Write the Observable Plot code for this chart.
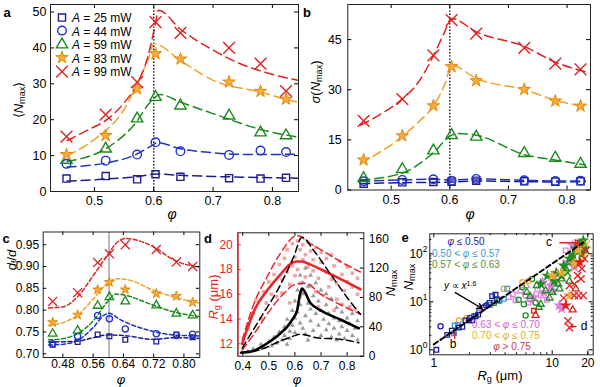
<!DOCTYPE html>
<html><head><meta charset="utf-8">
<script src="https://cdn.jsdelivr.net/npm/d3@7"></script>
<script src="https://cdn.jsdelivr.net/npm/@observablehq/plot@0.6"></script>
<style>
body{margin:0;background:#fff}
#fig{position:relative;width:600px;height:387px;font-family:"Liberation Sans",Arial,Helvetica,sans-serif;overflow:hidden;background:#fff;color:#000}
.lbl{position:absolute;white-space:nowrap;line-height:1}
.lbl sub{font-size:70%;vertical-align:-0.25em;line-height:0}
.lbl sup{font-size:70%;vertical-align:0.5em;line-height:0}
</style></head><body><div id="fig"></div>
<script>
// ================= DATA =================
const phiA = [0.453, 0.519, 0.572, 0.603, 0.645, 0.727, 0.780, 0.823];
const powers = [25, 44, 59, 83, 99];
const phiPeak = 0.6;

// panel a: <N_max>
const meanN25 = [3.6, 4.3, 3.4, 4.8, 4.1, 3.7, 3.6, 3.8];
const meanN44 = [7.7, 8.6, 10.3, 13.7, 11.2, 10.2, 11.4, 11.0];
const meanN59 = [8.8, 11.9, 20.3, 26.3, 23.9, 21.1, 16.4, 15.6];
const meanN83 = [10.3, 15.6, 28.6, 38.4, 36.9, 30.5, 27.9, 25.7];
const meanN99 = [15.3, 21.4, 30.5, 47.2, 44.2, 40.0, 35.6, 28.0];
const fitA25 = [[0.454,2.9],[0.521,3.5],[0.566,4.0],[0.606,4.9],[0.645,4.5],[0.70,4.2],[0.78,3.9],[0.845,3.7]];
const fitA44 = [[0.454,6.8],[0.521,8.0],[0.566,10.0],[0.597,12.8],[0.606,13.6],[0.645,11.9],[0.70,10.8],[0.735,10.4],[0.78,10.3],[0.845,10.4]];
const fitA59 = [[0.454,8.4],[0.521,12.1],[0.566,18.4],[0.597,25.4],[0.611,27.0],[0.645,24.9],[0.70,21.7],[0.78,17.3],[0.845,15.1]];
const fitA83 = [[0.454,10.0],[0.5045,15.1],[0.549,22.6],[0.572,30.0],[0.592,37.5],[0.600,41.2],[0.645,36.5],[0.701,30.9],[0.78,27.7],[0.825,25.6],[0.845,24.8]];
const fitA99 = [[0.454,14.2],[0.49,17.2],[0.521,20.0],[0.55,24.7],[0.572,30.0],[0.59,37.5],[0.602,46.0],[0.608,50.5],[0.645,45.2],[0.70,39.4],[0.735,36.4],[0.78,33.6],[0.845,30.9]];

// panel b: sigma(N_max)
const sdN25 = [1.9, 2.3, 2.4, 2.5, 2.8, 2.6, 2.5, 2.6];
const sdN44 = [2.6, 3.0, 3.2, 2.8, 3.3, 2.9, 2.7, 2.8];
const sdN59 = [3.5, 6.2, 11.8, 16.4, 15.9, 11.0, 9.6, 7.8];
const sdN83 = [9.0, 16.2, 25.2, 36.9, 32.7, 30.1, 26.6, 25.1];
const sdN99 = [20.7, 27.2, 40.3, 50.8, 46.8, 42.5, 37.8, 36.1];
const fitB25 = [[0.448,1.9],[0.518,2.2],[0.571,2.3],[0.603,2.4],[0.645,2.7],[0.729,2.5],[0.779,2.4],[0.831,2.5]];
const fitB44 = [[0.448,2.6],[0.518,3.0],[0.571,3.2],[0.603,3.0],[0.645,3.3],[0.729,2.9],[0.779,2.7],[0.831,2.7]];
const fitB59 = [[0.448,3.0],[0.518,5.0],[0.571,11.0],[0.603,16.4],[0.615,16.9],[0.645,16.4],[0.729,10.5],[0.779,9.0],[0.831,7.5]];
const fitB83 = [[0.448,8.0],[0.518,15.9],[0.55,20.9],[0.571,24.9],[0.592,31.9],[0.603,37.3],[0.645,33.4],[0.729,29.9],[0.779,26.9],[0.831,24.9]];
const fitB99 = [[0.448,19.4],[0.479,22.4],[0.518,27.1],[0.547,32.4],[0.571,39.8],[0.590,46.8],[0.603,51.3],[0.645,47.3],[0.729,42.8],[0.779,38.3],[0.831,35.4]];

// panel c: d_f/d
const df25 = [0.721, 0.727, 0.744, 0.740, 0.732, 0.728, 0.744, 0.738];
const df44 = [0.723, 0.740, 0.788, 0.780, 0.757, 0.746, 0.742, 0.745];
const df59 = [0.746, 0.753, 0.810, 0.830, 0.820, 0.811, 0.792, 0.788];
const df83 = [0.772, 0.789, 0.847, 0.864, 0.847, 0.838, 0.832, 0.818];
const df99 = [0.820, 0.840, 0.909, 0.929, 0.950, 0.939, 0.910, 0.900];
const fitC25 = [[0.442,0.727],[0.518,0.729],[0.561,0.737],[0.597,0.743],[0.64,0.742],[0.72,0.733],[0.773,0.737],[0.842,0.735]];
const fitC44 = [[0.442,0.720],[0.482,0.722],[0.518,0.730],[0.561,0.761],[0.590,0.789],[0.602,0.793],[0.63,0.779],[0.72,0.751],[0.773,0.743],[0.842,0.741]];
const fitC59 = [[0.442,0.732],[0.482,0.735],[0.518,0.746],[0.561,0.776],[0.597,0.818],[0.620,0.837],[0.64,0.835],[0.72,0.811],[0.773,0.796],[0.842,0.785]];
const fitC83 = [[0.442,0.765],[0.482,0.772],[0.518,0.788],[0.561,0.826],[0.597,0.861],[0.623,0.872],[0.65,0.870],[0.72,0.845],[0.773,0.830],[0.842,0.816]];
const fitC99 = [[0.442,0.805],[0.482,0.808],[0.518,0.830],[0.561,0.880],[0.597,0.925],[0.623,0.955],[0.645,0.964],[0.667,0.962],[0.72,0.945],[0.773,0.915],[0.842,0.898]];

// panel d: R_g and N_max versus phi
const rgMean  = [[0.398,12.0],[0.449,14.9],[0.493,16.3],[0.544,17.6],[0.58,18.4],[0.605,18.65],[0.625,18.65],[0.66,18.4],[0.72,17.8],[0.787,17.1],[0.851,16.4]];
const rgUpper = [[0.398,12.3],[0.442,15.2],[0.493,17.4],[0.544,19.3],[0.608,20.75],[0.659,20.1],[0.723,19.3],[0.787,18.5],[0.851,17.8]];
const rgLower = [[0.398,11.5],[0.45,13.0],[0.50,14.6],[0.55,15.9],[0.60,16.8],[0.64,16.9],[0.70,16.0],[0.78,15.1],[0.851,14.4]];
const nMaxMean  = [[0.395,5],[0.44,7],[0.468,12],[0.5,19],[0.544,31],[0.57,40],[0.59,50],[0.608,62],[0.62,85],[0.627,92],[0.66,72],[0.70,62],[0.774,50],[0.845,38]];
const nMaxUpper = [[0.398,11],[0.468,52],[0.532,89],[0.595,135],[0.627,162],[0.672,144],[0.736,112],[0.80,80],[0.851,57]];
const nMaxLower = [[0.391,4.5],[0.468,9],[0.544,20.6],[0.60,28],[0.62,30],[0.685,25],[0.774,23],[0.845,18.3]];
const rgPoints = [[0.42,13.2],[0.44,14.5],[0.45,15.5],[0.47,14.0],[0.48,16.2],[0.49,15.3],[0.50,17.0],[0.51,16.0],[0.52,17.6],[0.53,15.8],[0.54,18.4],[0.55,17.2],[0.55,16.1],[0.56,18.9],[0.57,17.8],[0.57,19.6],[0.58,16.8],[0.59,18.3],[0.59,20.1],[0.60,17.5],[0.60,19.0],[0.61,20.3],[0.61,18.0],[0.62,19.6],[0.62,16.9],[0.63,18.8],[0.63,20.0],[0.64,17.4],[0.64,19.2],[0.65,18.2],[0.65,20.2],[0.66,16.7],[0.66,19.5],[0.67,17.9],[0.67,18.8],[0.68,19.8],[0.68,16.2],[0.69,17.3],[0.70,18.6],[0.70,19.4],[0.71,15.9],[0.72,17.8],[0.72,18.9],[0.73,16.6],[0.74,19.2],[0.74,17.2],[0.75,18.3],[0.76,15.6],[0.76,16.9],[0.77,18.7],[0.78,17.6],[0.78,15.2],[0.79,16.3],[0.80,18.2],[0.80,17.0],[0.81,15.0],[0.82,16.6],[0.82,17.7],[0.83,14.8],[0.84,16.0],[0.84,17.3],[0.58,15.3],[0.62,15.8],[0.69,15.0],[0.75,14.7]];
const nPoints = [[0.42,6],[0.44,10],[0.46,9],[0.47,16],[0.48,12],[0.50,20],[0.51,14],[0.52,26],[0.53,18],[0.54,33],[0.55,22],[0.56,40],[0.56,28],[0.57,50],[0.58,34],[0.58,24],[0.59,62],[0.59,42],[0.60,75],[0.60,52],[0.60,32],[0.61,90],[0.61,60],[0.62,110],[0.62,45],[0.62,70],[0.63,38],[0.63,85],[0.63,100],[0.64,55],[0.64,120],[0.64,30],[0.65,72],[0.65,95],[0.66,48],[0.66,64],[0.66,110],[0.67,35],[0.67,82],[0.68,58],[0.68,100],[0.69,42],[0.69,75],[0.70,28],[0.70,62],[0.70,90],[0.71,50],[0.72,36],[0.72,70],[0.72,85],[0.73,44],[0.73,58],[0.74,26],[0.74,78],[0.75,52],[0.75,38],[0.76,66],[0.77,30],[0.77,48],[0.78,60],[0.78,40],[0.79,24],[0.80,52],[0.80,35],[0.81,44],[0.82,28],[0.82,58],[0.83,38],[0.84,22],[0.84,48],[0.57,16],[0.65,22],[0.76,22]];

// panel e: N_max vs R_g, [Rg, Nmax, A]
const eNavy = [[1.05,1.0,25],[1.14,3.1,44],[1.30,2.05,25],[1.42,2.5,25],[1.74,3.0,25],[1.85,4.1,25],[1.98,4.1,25],[2.11,4.1,25],[2.25,5.0,25],[2.37,5.4,25],[2.64,7.7,44],[2.77,8.4,44],[3.11,13.1,25],[3.32,14.0,25],[3.43,11.2,25],[2.95,9.5,25],[1.62,2.9,25],[2.02,4.6,44]];
const eLight = [[1.50,3.2,25],[1.60,3.3,25],[1.48,2.2,25],[2.18,5.0,25],[2.42,6.6,44],[4.17,18.7,25],[3.9,11.5,25],[2.9,8.7,25],[3.6,10.8,25]];
const eGreen = [[3.22,9.4,25],[3.55,10.5,25],[5.58,20.1,44],[5.96,5.2,44],[5.76,8.9,44],[7.24,9.6,44],[6.76,30,44],[7.4,21.8,59],[8.0,23.5,83],[8.8,17,59],[9.1,35,83],[10.0,15.8,59],[10.4,27,83],[11.2,23.5,59],[12.0,35,83],[12.5,57,83],[13.0,49,59],[14.0,79,83],[14.9,67,59],[15.8,128,83],[17.1,149,83],[18.3,190,83],[17.8,100,83],[19.1,128,83],[8.0,8.9,59],[7.7,7.7,59],[6.1,15.8,59],[16.4,170,25],[14.0,27,59],[11.5,18.7,59],[9.5,12,59],[6.5,13,59],[5.2,11,44],[13.5,40,99],[16.5,60,99],[12,30,59],[10.8,40,83],[15,95,83],[18,150,99],[16,110,59]];
const ePink = [[2.45,7.4,25],[4.65,14.5,25],[5.4,16.8,59],[4.9,10.8,25],[5.96,13.5,25],[6.5,11.2,25],[7.0,12.4,83],[8.0,13.5,25],[8.5,15.8,83],[9.7,21.8,83],[10.7,27,25],[11.5,8.4,83],[12.0,7.2,83],[11.2,38,83],[12.6,49,99],[13.5,67,83],[14.9,92,25],[15.4,53,83],[13.0,118,25],[14.9,149,83],[6.3,9.6,25],[8.3,25.4,83],[6.0,21.8,59],[9.0,11,25],[10.2,17,83],[7.5,18,25],[4.3,12.5,25],[3.0,8.6,25]];
const eOrange = [[1.63,4.1,44],[1.9,4.6,44],[3.9,18.7,44],[5.6,25.4,44],[6.3,27,44],[12.0,40,83],[14.0,13.5,83],[15.4,62,83],[17.0,149,99],[19.5,160,99],[18.3,86,99],[10.0,35,83],[16.5,120,83]];
const eRed = [[7.24,5.2,59],[7.0,6.5,25],[13.0,8.4,83],[14.9,6.8,59],[15.4,13.5,99],[16.7,13.5,99],[18.3,13.5,99],[13.6,4.0,99],[14.0,2.9,99],[15.4,23.5,99],[16.4,35,99],[17.8,49,99],[18.8,79,99],[17.1,67,83],[19.1,118,99],[14.0,21.8,99],[15.8,18.7,59],[17.5,30,99],[12.5,12,99]];
const eFit = [[1.0,1.3],[18.5,175]];
const eArrows = [
  {x1:1.52, y1:15.6, x2:2.56, y2:7.25, color:"#000"},
  {x1:11.6, y1:170, x2:17.2, y2:170, color:"#e02020"},
  {x1:1.50, y1:1.72, x2:1.50, y2:2.35, color:"#e02020"},
  {x1:15.8, y1:3.06, x2:14.4, y2:3.06, color:"#e02020"}
];

// tick values
const xTicksAB = [0.5, 0.6, 0.7, 0.8];
const yTicksA = [0, 10, 20, 30, 40, 50];
const yTicksB = [0, 15, 30, 45];
const xTicksC = [0.48, 0.56, 0.64, 0.72, 0.80];
const yTicksC = [0.70, 0.75, 0.80, 0.85, 0.90, 0.95];
const xTicksD = [0.4, 0.5, 0.6, 0.7, 0.8];
const yTicksDRg = [12, 14, 16, 18, 20];
const yTicksDN = [0, 40, 80, 120, 160];
const xTicksE = [1, 10, 20];
const xMinorE = [2, 3, 4, 5, 6, 7, 8, 9, 20];
const yTicksE = [1, 10, 100];
const yMinorE = [2,3,4,5,6,7,8,9,20,30,40,50,60,70,80,90,200];

// ================= STYLE / LAYOUT =================
const SYM = {25:"square", 44:"circle", 59:"triangle", 83:"star", 99:"times"};
const D3SYM = {square:d3.symbolSquare, circle:d3.symbolCircle, triangle:d3.symbolTriangle, star:d3.symbolStar, times:d3.symbolTimes};
const series = [
  {A:25, color:"#1d1d8f", fill:"none", rA:4.0, rC:2.7, mean:meanN25, sd:sdN25, df:df25, fitA:fitA25, fitB:fitB25, fitC:fitC25},
  {A:44, color:"#2233cc", fill:"none", rA:4.3, rC:3.1, mean:meanN44, sd:sdN44, df:df44, fitA:fitA44, fitB:fitB44, fitC:fitC44},
  {A:59, color:"#1a8a1a", fill:"none", rA:4.2, rC:3.2, mean:meanN59, sd:sdN59, df:df59, fitA:fitA59, fitB:fitB59, fitC:fitC59},
  {A:83, color:"#f0a030", fill:"#f7ab38", mstroke:"#e08a10", rA:3.9, rC:3.1, mean:meanN83, sd:sdN83, df:df83, fitA:fitA83, fitB:fitB83, fitC:fitC83},
  {A:99, color:"#dd2222", fill:"none", rA:5.4, rC:4.2, mean:meanN99, sd:sdN99, df:df99, fitA:fitA99, fitB:fitB99, fitC:fitC99}
];
const W = 600, H = 387;
const FONT = '"Liberation Sans", Arial, Helvetica, sans-serif';
const fig = document.getElementById("fig");
const RED = "#e8262b";

function addPlot(box, fontSize, options, color = "#000") {
  const svg = Plot.plot({
    width: W, height: H,
    marginLeft: box.l, marginRight: W - box.r, marginTop: box.t, marginBottom: H - box.b,
    style: {background: "transparent", fontFamily: FONT, fontSize: fontSize + "px", color, overflow: "visible"},
    ...options
  });
  svg.style.position = "absolute"; svg.style.left = "0px"; svg.style.top = "0px"; svg.style.maxWidth = "none";
  fig.appendChild(svg);
  return svg;
}
function ticksX(box, values, len, stroke = "#000", top = true) {
  const fh = box.b - box.t;
  const m = [Plot.tickX(values, {x: d => d, insetTop: fh - len, stroke})];
  if (top) m.push(Plot.tickX(values, {x: d => d, insetBottom: fh - len, stroke}));
  return m;
}
function ticksY(box, values, len, stroke = "#000", left = true, right = true) {
  const fw = box.r - box.l, m = [];
  if (left) m.push(Plot.tickY(values, {y: d => d, insetRight: fw - len, stroke}));
  if (right) m.push(Plot.tickY(values, {y: d => d, insetLeft: fw - len, stroke}));
  return m;
}
const xy = {x: d => d[0], y: d => d[1]};
function fitLines(key, dash, sw) {
  return series.map(s => Plot.line(s[key], {...xy, stroke: s.color, strokeWidth: sw, strokeDasharray: dash, curve: "monotone-x", clip: true}));
}
function markers(key, rKey, sw) {
  return series.map(s => Plot.dot(phiA.map((p, i) => [p, s[key][i]]), {...xy, symbol: SYM[s.A], r: s[rKey],
    stroke: s.mstroke || s.color, fill: s.fill, strokeWidth: s.A === 83 ? 1 : sw}));
}
function txt(x, y, html, css = "", anchor = "middle", rotate = false) {
  const el = document.createElement("div");
  el.className = "lbl";
  el.innerHTML = html;
  const tx = anchor === "start" ? "0" : anchor === "end" ? "-100%" : "-50%";
  el.style.cssText = `left:${x}px;top:${y}px;transform:translate(${tx},-50%)${rotate ? " rotate(-90deg)" : ""};${css}`;
  fig.appendChild(el);
}
const PHI = '<i>φ</i>';
const NMAX = '<i>N</i><sub>max</sub>';

// ================= PANEL a =================
const boxA = {l:50, r:298, t:4, b:191};
addPlot(boxA, 12.5, {
  x: {domain: [0.426, 0.844]}, y: {domain: [0, 52.1]},
  marks: [
    Plot.ruleX([phiPeak], {strokeDasharray: "1.4,1.8", strokeWidth: 1.4}),
    ...fitLines("fitA", "9,5", 1.5),
    ...markers("mean", "rA", 1.4),
    ...ticksX(boxA, xTicksAB, 4), ...ticksY(boxA, yTicksA, 4),
    Plot.frame({stroke: "#222"}),
    Plot.axisX({ticks: xTicksAB, tickSize: 0, tickPadding: 5, tickFormat: d3.format(".1f"), label: null}),
    Plot.axisY({ticks: yTicksA, tickSize: 0, tickPadding: 4, label: null})
  ]
});
// legend of panel a
series.forEach((s, i) => {
  const size = Math.PI * s.rA * s.rA;
  const path = d3.symbol(D3SYM[SYM[s.A]], size)();
  const sym = `<svg width="16" height="16" viewBox="-8 -8 16 16" style="vertical-align:middle"><path d="${path}" stroke="${s.mstroke || s.color}" fill="${s.fill}" stroke-width="${s.A === 83 ? 1 : 1.4}"/></svg>`;
  txt(54, 17.3 + i * 13.4, `${sym}<span style="font-size:12px;margin-left:2px"><i>A</i> = ${s.A} mW</span>`, "", "start");
});

// ================= PANEL b =================
const boxB = {l:347.3, r:590, t:4, b:189.5};
addPlot(boxB, 12.5, {
  x: {domain: [0.426, 0.840]}, y: {domain: [0, 55.5]},
  marks: [
    Plot.ruleX([phiPeak], {strokeDasharray: "1.4,1.8", strokeWidth: 1.4}),
    ...fitLines("fitB", "9,5", 1.5),
    ...markers("sd", "rA", 1.4),
    ...ticksX(boxB, xTicksAB, 4), ...ticksY(boxB, yTicksB, 4),
    Plot.frame({stroke: "#222"}),
    Plot.axisX({ticks: xTicksAB, tickSize: 0, tickPadding: 5, tickFormat: d3.format(".1f"), label: null}),
    Plot.axisY({ticks: yTicksB, tickSize: 0, tickPadding: 6, label: null})
  ]
});

// ================= PANEL c =================
const boxC = {l:42.7, r:199.3, t:231.5, b:357};
addPlot(boxC, 12, {
  x: {domain: [0.428, 0.842]}, y: {domain: [0.6915, 0.979]},
  marks: [
    Plot.ruleX([0.602], {stroke: "#777", strokeWidth: 1}),
    ...fitLines("fitC", "4,2.5", 1.5),
    ...markers("df", "rC", 1.3),
    ...ticksX(boxC, xTicksC, 3.5), ...ticksY(boxC, yTicksC, 3.5),
    Plot.frame({stroke: "#222"}),
    Plot.axisX({ticks: xTicksC, tickSize: 0, tickPadding: 2, tickFormat: d3.format(".2f"), label: null}),
    Plot.axisY({ticks: yTicksC, tickSize: 0, tickPadding: 4, tickFormat: d3.format(".2f"), label: null})
  ]
});

// ================= PANEL d =================
const boxD = {l:237.3, r:363.3, t:232.3, b:355.7};
const xDomD = [0.381, 0.864];
addPlot(boxD, 12, {
  x: {domain: xDomD}, y: {domain: [11.0, 20.97], axis: null},
  marks: [
    Plot.dot(rgPoints, {...xy, symbol: "square", r: 2.0, fill: "#ec6464", fillOpacity: 0.6}),
    Plot.line(rgUpper, {...xy, stroke: RED, strokeWidth: 1.5, strokeDasharray: "7,4", curve: "monotone-x", clip: true}),
    Plot.line(rgLower, {...xy, stroke: RED, strokeWidth: 1.5, strokeDasharray: "7,4", curve: "monotone-x", clip: true}),
    Plot.line(rgMean, {...xy, stroke: RED, strokeWidth: 2.6, curve: "monotone-x", clip: true}),
    ...ticksX(boxD, xTicksD, 3.5),
    ...ticksY(boxD, yTicksDRg, 3.5, RED, true, false),
    Plot.frame({stroke: "#222"}),
    Plot.ruleX([xDomD[0]], {stroke: RED, strokeWidth: 1.6}),
    Plot.axisX({ticks: xTicksD, tickSize: 0, tickPadding: 5, tickFormat: d3.format(".1f"), label: null})
  ]
});
addPlot(boxD, 12, {
  x: {domain: xDomD, axis: null}, y: {domain: [11.0, 20.97]},
  marks: [Plot.axisY({ticks: yTicksDRg, tickSize: 0, tickPadding: 5, label: null})]
}, RED);
addPlot(boxD, 12, {
  x: {domain: xDomD, axis: null}, y: {domain: [0, 168]},
  marks: [
    Plot.dot(nPoints, {...xy, symbol: "triangle", r: 1.8, fill: "#555", fillOpacity: 0.6}),
    Plot.line(nMaxUpper, {...xy, stroke: "#000", strokeWidth: 1.5, strokeDasharray: "7,4", curve: "monotone-x", clip: true}),
    Plot.line(nMaxLower, {...xy, stroke: "#000", strokeWidth: 1.5, strokeDasharray: "7,4", curve: "monotone-x", clip: true}),
    Plot.line(nMaxMean, {...xy, stroke: "#000", strokeWidth: 2.6, curve: "monotone-x", clip: true}),
    ...ticksY(boxD, yTicksDN, 3.5, "#000", false, true),
    Plot.axisY({anchor: "right", ticks: yTicksDN, tickSize: 0, tickPadding: 5, label: null})
  ]
});

// ================= PANEL e =================
const boxE = {l:429.3, r:592.7, t:233.3, b:354.3};
const eGroups = [
  {data: ePink, color: "#e07ee0"},
  {data: eGreen, color: "#1f8f1f"},
  {data: eOrange, color: "#f0a830"},
  {data: eRed, color: "#e02020"},
  {data: eLight, color: "#3a9ad9"},
  {data: eNavy, color: "#1c1c9c"}
];
const eDots = [];
eGroups.forEach(g => powers.forEach(A => {
  const sub = g.data.filter(d => d[2] === A);
  if (!sub.length) return;
  eDots.push(Plot.dot(sub, {...xy, symbol: SYM[A], r: A === 83 ? 2.6 : A === 99 ? 3.4 : 2.6,
    stroke: g.color, fill: A === 83 ? g.color : "none", strokeWidth: 1.3}));
}));
addPlot(boxE, 12, {
  x: {type: "log", domain: [0.925, 22.2]}, y: {type: "log", domain: [0.787, 261], axis: null},
  marks: [
    ...ticksX(boxE, xTicksE, 4), ...ticksX(boxE, xMinorE, 2),
    ...ticksY(boxE, yTicksE, 4), ...ticksY(boxE, yMinorE, 2),
    ...eDots,
    Plot.line(eFit, {...xy, stroke: "#000", strokeWidth: 2, strokeDasharray: "5,3"}),
    Plot.arrow(eArrows, {x1: "x1", y1: "y1", x2: "x2", y2: "y2", stroke: "color", strokeWidth: 1.4, headLength: 6}),
    Plot.frame({stroke: "#222"}),
    Plot.axisX({ticks: xTicksE, tickSize: 0, tickPadding: 4, tickFormat: d => String(d), label: null}),
    Plot.text(yTicksE, {y: d => d, frameAnchor: "left", text: () => "10", textAnchor: "end", dx: -7}),
    Plot.text(yTicksE, {y: d => d, frameAnchor: "left", text: d => String(Math.round(Math.log10(d))), textAnchor: "start", dx: -7, dy: -5, fontSize: 8.5})
  ]
});

// ================= TEXT LABELS =================
const bold = "font-weight:bold;font-size:13px";
txt(7, 12, "a", bold); txt(307, 12, "b", bold); txt(6, 238, "c", bold); txt(208, 238, "d", bold); txt(405, 237, "e", bold);
txt(18, 100, `⟨${NMAX}⟩`, "font-size:13px", "middle", true);
txt(172, 214, PHI, "font-size:14px");
txt(315, 82, `<i>σ</i>(${NMAX})`, "font-size:13px", "middle", true);
txt(470, 214, PHI, "font-size:14px");
txt(11, 260, `<i>d</i><sub>f</sub>/<i>d</i>`, "font-size:13px", "middle", true);
txt(121, 379, PHI, "font-size:13px");
txt(213, 297, `<i>R</i><sub>g</sub> (μm)`, `font-size:13px;color:${RED}`, "middle", true);
txt(390, 283, NMAX, "font-size:13px", "middle", true);
txt(297, 379, PHI, "font-size:13px");
txt(408, 277, NMAX, "font-size:13px", "middle", true);
txt(500, 375, `<i>R</i><sub>g</sub> (μm)`, "font-size:13px");
const eF = "font-size:10px";
txt(466, 242, `${PHI} ≤ 0.50`, `${eF};color:#1c1c9c`);
txt(432, 253.5, `0.50 &lt; ${PHI} ≤ 0.57`, `${eF};color:#3a9ad9`, "start");
txt(432, 265, `0.57 &lt; ${PHI} ≤ 0.63`, `${eF};color:#5b8c3a`, "start");
txt(444, 286, `<i>y</i> ∝ <i>x</i><sup>1.6</sup>`, `${eF};color:#000`, "start");
txt(472, 325, `0.63 &lt; ${PHI} ≤ 0.70`, `${eF};color:#d55ed5`, "start");
txt(472, 336, `0.70 &lt; ${PHI} ≤ 0.75`, `${eF};color:#e8b020`, "start");
txt(512, 347, `${PHI} &gt; 0.75`, `${eF};color:#c83c3c`);
txt(453, 344, "b", "font-size:12px");
txt(549, 242, "c", "font-size:12px");
txt(584, 326, "d", "font-size:12px");
</script></body></html>
